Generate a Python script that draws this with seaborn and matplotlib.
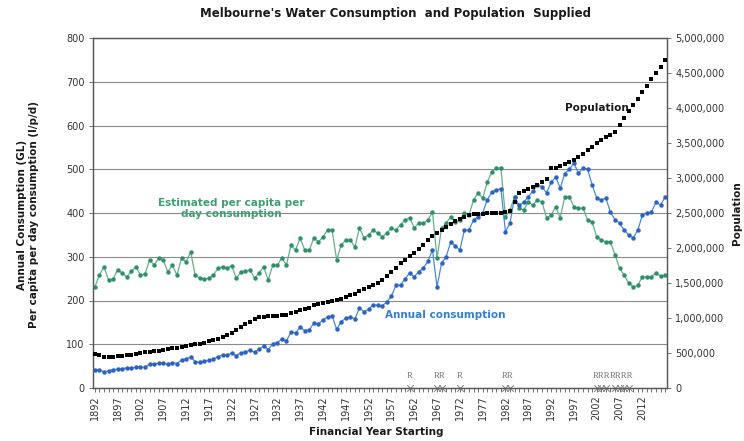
import matplotlib
matplotlib.use("Agg")
import matplotlib.pyplot as plt
import matplotlib.ticker as mticker
import pandas as pd
import seaborn as sns

# Financial years 1892 .. 2017
years = list(range(1892, 2018))

# Estimated per capita per day consumption (litres / person / day)
per_capita = [
    231, 258, 277, 247, 249, 270, 263, 254, 267, 277,   # 1892-1901
    258, 261, 293, 281, 297, 293, 265, 281, 258, 297,   # 1902-1911
    288, 311, 258, 251, 249, 251, 258, 274, 277, 274,   # 1912-1921
    279, 251, 265, 267, 270, 251, 263, 277, 247, 281,   # 1922-1931
    281, 297, 281, 327, 315, 343, 315, 315, 343, 334,   # 1932-1941
    345, 361, 361, 293, 327, 338, 338, 322, 366, 343,   # 1942-1951
    350, 361, 354, 345, 354, 366, 361, 373, 384, 389,   # 1952-1961
    366, 377, 377, 384, 402, 297, 366, 377, 391, 379,   # 1962-1971
    384, 400, 395, 430, 446, 434, 470, 494, 503, 503,   # 1972-1981
    391, 407, 437, 411, 407, 425, 418, 430, 425, 389,   # 1982-1991
    395, 414, 389, 437, 437, 414, 411, 411, 384, 379,   # 1992-2001
    345, 338, 334, 334, 304, 274, 258, 240, 231, 235,   # 2002-2011
    254, 254, 254, 263, 255, 258,                       # 2012-2017
]

# Annual consumption (GL)
annual = [
    41, 42, 37, 39, 42, 43, 44, 46, 45, 48,             # 1892-1901
    48, 47, 55, 54, 57, 57, 54, 58, 56, 64,             # 1902-1911
    66, 71, 60, 59, 61, 63, 66, 72, 75, 76,             # 1912-1921
    79, 74, 80, 83, 86, 82, 89, 96, 88, 101,            # 1922-1931
    104, 112, 108, 128, 126, 139, 131, 133, 148, 147,   # 1932-1941
    155, 163, 165, 134, 152, 159, 162, 158, 183, 174,   # 1942-1951
    180, 190, 189, 188, 197, 210, 235, 235, 250, 263,   # 1952-1961
    254, 266, 274, 290, 315, 231, 286, 300, 334, 325,   # 1962-1971
    315, 361, 361, 384, 391, 400, 430, 448, 453, 455,   # 1972-1981
    357, 377, 437, 418, 425, 437, 450, 464, 460, 446,   # 1982-1991
    470, 482, 457, 490, 500, 514, 491, 503, 500, 464,   # 1992-2001
    434, 430, 434, 402, 385, 377, 361, 350, 343, 361,   # 2002-2011
    395, 400, 402, 425, 418, 437,                       # 2012-2017
]

# Population supplied (thousands of people)
population_k = [
    490, 470, 450, 445, 448, 452, 458, 465, 475, 490,             # 1892-1901
    500, 508, 515, 525, 535, 545, 555, 565, 578, 592,             # 1902-1911
    605, 615, 625, 635, 650, 665, 680, 700, 725, 755,             # 1912-1921
    790, 830, 870, 910, 950, 985, 1010, 1020, 1025, 1030,         # 1922-1931
    1035, 1040, 1050, 1070, 1090, 1110, 1130, 1150, 1180, 1200,   # 1932-1941
    1220, 1235, 1250, 1260, 1275, 1300, 1325, 1350, 1380, 1410,   # 1942-1951
    1440, 1470, 1500, 1550, 1600, 1660, 1720, 1780, 1830, 1880,   # 1952-1961
    1930, 1990, 2050, 2110, 2170, 2215, 2260, 2300, 2340, 2380,   # 1962-1971
    2420, 2450, 2470, 2480, 2490, 2490, 2495, 2495, 2500, 2505,   # 1972-1981
    2510, 2530, 2660, 2780, 2810, 2840, 2870, 2900, 2940, 2980,   # 1982-1991
    3140, 3150, 3170, 3200, 3230, 3260, 3300, 3350, 3400, 3450,   # 1992-2001
    3500, 3550, 3590, 3620, 3660, 3760, 3860, 3960, 4050, 4130,   # 2002-2011
    4230, 4320, 4410, 4500, 4590, 4680,                           # 2012-2017
]

# Years in which water restrictions applied
restriction_years = [1961, 1967, 1968, 1972, 1982, 1983,
                     2002, 2003, 2004, 2006, 2007, 2008, 2009]

df = pd.DataFrame({
    "year": years,
    "per_capita": per_capita,
    "annual": annual,
    "population": [p * 1000 for p in population_k],
})
restr = pd.DataFrame({"year": restriction_years,
                      "zero": [0] * len(restriction_years)})

# consecutive restriction years share one run of "R" letters
groups = []
for yr in restriction_years:
    if groups and yr == groups[-1][-1] + 1:
        groups[-1].append(yr)
    else:
        groups.append([yr])

sns.set_theme(style="white")
plt.rcParams["font.family"] = ["DejaVu Sans"]

GREEN_LINE = "#63b08c"
GREEN_MARK = "#2f8f6a"
BLUE_LINE = "#4a8ad8"
BLUE_MARK = "#2c62c0"
GRID = "#8a8a8a"
SPINE = "#5a5a5a"

fig = plt.figure(figsize=(7.44, 4.41), dpi=100)
ax = fig.add_axes([93 / 744, 1 - 388 / 441, (667 - 93) / 744, (388 - 38) / 441])
ax2 = ax.twinx()

# per capita and annual consumption on the left axis
sns.lineplot(data=df, x="year", y="per_capita", ax=ax, color=GREEN_LINE,
             linewidth=0.9, marker="o", markersize=3.2,
             markerfacecolor=GREEN_MARK, markeredgewidth=0, zorder=3)
sns.lineplot(data=df, x="year", y="annual", ax=ax, color=BLUE_LINE,
             linewidth=0.9, marker="o", markersize=3.2,
             markerfacecolor=BLUE_MARK, markeredgewidth=0, zorder=3)

# restriction markers along the baseline
sns.scatterplot(data=restr, x="year", y="zero", ax=ax, marker="x",
                color="#8a8a8a", s=22, linewidth=0.8, zorder=4, clip_on=False)
for g in groups:
    centre = (g[0] + g[-1]) / 2
    ax.text(centre, 28, "R" * len(g), ha="center", va="center", fontsize=6.3,
            family="Liberation Serif", color="#707070", zorder=4)

# population on the right axis
sns.scatterplot(data=df, x="year", y="population", ax=ax2, color="black",
                marker="s", s=7, linewidth=0, zorder=5)

# axes limits and ticks
ax.set_xlim(1891.6, 2017.4)
ax.set_ylim(0, 800)
ax2.set_ylim(0, 5_000_000)

ax.yaxis.set_major_locator(mticker.MultipleLocator(100))
ax2.yaxis.set_major_locator(mticker.MultipleLocator(500_000))
ax2.yaxis.set_major_formatter(mticker.StrMethodFormatter("{x:,.0f}"))

ax.set_xticks(list(range(1892, 2017, 5)))
ax.xaxis.set_minor_locator(mticker.MultipleLocator(1))
ax.set_xticklabels([str(y) for y in range(1892, 2017, 5)], rotation=90)

ax.tick_params(axis="x", which="both", direction="out", length=3,
               width=0.6, color=SPINE, labelsize=7, labelcolor="#333333",
               bottom=True, pad=2)
ax.tick_params(axis="y", direction="out", length=3, width=0.6, color=SPINE,
               labelsize=7, labelcolor="#333333", left=True, pad=3)
ax2.tick_params(axis="y", direction="out", length=3, width=0.6, color=SPINE,
                labelsize=7, labelcolor="#333333", right=True, pad=3)

ax.yaxis.grid(True, color=GRID, linewidth=0.8)
ax.set_axisbelow(True)

for a in (ax, ax2):
    for s in a.spines.values():
        s.set_color(SPINE)
        s.set_linewidth(0.9)

ax.set_xlabel("")
ax.set_ylabel("")
ax2.set_ylabel("")

# series labels
ax.text(2002, 640, "Population", ha="center", va="center", fontsize=7.5,
        fontweight="bold", color="#1a1a1a")
ax.text(1922, 411, "Estimated per capita per\nday consumption", ha="center",
        va="center", fontsize=7.5, fontweight="bold", color="#3f9f74",
        linespacing=1.1)
ax.text(1968.7, 167, "Annual consumption", ha="center", va="center",
        fontsize=7.5, fontweight="bold", color="#3380d0")

# titles and axis labels
fig.text(395 / 744, 1 - 14 / 441,
         "Melbourne's Water Consumption  and Population  Supplied",
         ha="center", va="center", fontsize=8.5, fontweight="bold",
         color="#1a1a1a")
fig.text(376 / 744, 1 - 432 / 441, "Financial Year Starting", ha="center",
         va="center", fontsize=7.5, fontweight="bold", color="#1a1a1a")
fig.text(28 / 744, 1 - 215 / 441,
         "Annual Consumption (GL)\nPer capita per day consumption (l/p/d)",
         ha="center", va="center", rotation=90, fontsize=7.5,
         fontweight="bold", color="#1a1a1a", linespacing=1.15)
fig.text(737 / 744, 1 - 213 / 441, "Population", ha="center", va="center",
         rotation=90, fontsize=7.5, fontweight="bold", color="#1a1a1a")

fig.savefig("out.png", dpi=100, facecolor="white")
